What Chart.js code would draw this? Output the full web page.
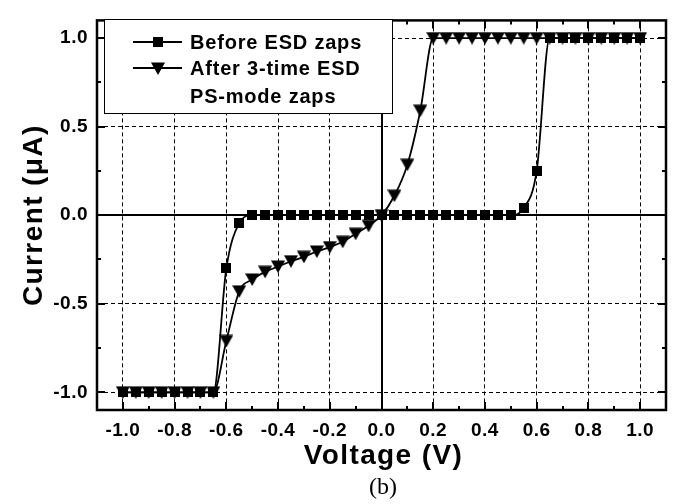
<!DOCTYPE html>
<html><head><meta charset="utf-8">
<script src="https://cdn.jsdelivr.net/npm/chart.js@4.4.0/dist/chart.umd.min.js"></script>
<style>html,body{margin:0;padding:0;background:#fff;}#wrap{width:679px;height:504px;}</style>
</head><body><div id="wrap"><canvas id="c" width="679" height="504"></canvas></div>
<script>
const seriesNames = ['Before ESD zaps', 'After 3-time ESD', 'PS-mode zaps'];
const voltage = [-1.0,-0.95,-0.9,-0.85,-0.8,-0.75,-0.7,-0.65,-0.6,-0.55,-0.5,-0.45,-0.4,-0.35,-0.3,-0.25,-0.2,-0.15,-0.1,-0.05,0.0,0.05,0.1,0.15,0.2,0.25,0.3,0.35,0.4,0.45,0.5,0.55,0.6,0.65,0.7,0.75,0.8,0.85,0.9,0.95,1.0];
const beforeCurrent = [-1.0,-1.0,-1.0,-1.0,-1.0,-1.0,-1.0,-1.0,-0.30,-0.045,0,0,0,0,0,0,0,0,0,0,0,0,0,0,0,0,0,0,0,0,0,0.04,0.25,1.0,1.0,1.0,1.0,1.0,1.0,1.0,1.0];
const afterCurrent = [-1.0,-1.0,-1.0,-1.0,-1.0,-1.0,-1.0,-1.0,-0.71,-0.43,-0.363,-0.32,-0.29,-0.26,-0.235,-0.205,-0.18,-0.15,-0.105,-0.06,0.0,0.11,0.285,0.59,1.0,1.0,1.0,1.0,1.0,1.0,1.0,1.0,1.0,1.0,1.0,1.0,1.0,1.0,1.0,1.0,1.0];
const xTickValues = [-1.0,-0.8,-0.6,-0.4,-0.2,0.0,0.2,0.4,0.6,0.8,1.0];
const xTickLabels = ['-1.0','-0.8','-0.6','-0.4','-0.2','0.0','0.2','0.4','0.6','0.8','1.0'];
const xMinorValues = [-0.9,-0.7,-0.5,-0.3,-0.1,0.1,0.3,0.5,0.7,0.9];
const yTickValues = [-1.0,-0.5,0.0,0.5,1.0];
const yTickLabels = ['-1.0','-0.5','0.0','0.5','1.0'];
const yMinorValues = [-0.75,-0.25,0.25,0.75];
const xTitle = 'Voltage (V)';
const yTitle = 'Current (\u03BCA)';
const caption = '(b)';

const FONT = '"Liberation Sans", Arial, sans-serif';

// marker images
const triImg = document.createElement('canvas');
triImg.width = 14; triImg.height = 13;
(() => {
  const t = triImg.getContext('2d');
  t.fillStyle = '#000';
  t.beginPath(); t.moveTo(0, 0.5); t.lineTo(14, 0.5); t.lineTo(7, 13); t.closePath(); t.fill();
})();
const sqImg = document.createElement('canvas');
sqImg.width = 10; sqImg.height = 10;
(() => { const t = sqImg.getContext('2d'); t.fillStyle = '#000'; t.fillRect(0, 0, 10, 10); })();

const framePlugin = {
  id: 'frame',
  beforeDraw(chart) {
    chart.ctx.letterSpacing = '0.5px';
  },
  beforeDatasetsDraw(chart) {
    const {ctx, chartArea: a, scales: {x, y}} = chart;
    ctx.save();
    ctx.strokeStyle = '#000';
    ctx.lineWidth = 2;
    const x0 = Math.round(x.getPixelForValue(0));
    const y0 = Math.round(y.getPixelForValue(0));
    ctx.beginPath();
    ctx.moveTo(a.left, y0); ctx.lineTo(a.right, y0);
    ctx.moveTo(x0, a.top); ctx.lineTo(x0, a.bottom);
    ctx.stroke();
    ctx.restore();
  },
  afterDatasetsDraw(chart) {
    const {ctx, chartArea: a, scales: {x, y}} = chart;
    ctx.save();
    ctx.strokeStyle = '#000';
    ctx.lineWidth = 2;
    ctx.beginPath();
    const tick = (vals, len) => {
      vals.forEach(v => {
        const px = Math.round(x.getPixelForValue(v));
        ctx.moveTo(px, a.bottom); ctx.lineTo(px, a.bottom - len);
        ctx.moveTo(px, a.top); ctx.lineTo(px, a.top + len);
      });
    };
    const tickY = (vals, len) => {
      vals.forEach(v => {
        const py = Math.round(y.getPixelForValue(v));
        ctx.moveTo(a.left, py); ctx.lineTo(a.left + len, py);
        ctx.moveTo(a.right, py); ctx.lineTo(a.right - len, py);
      });
    };
    tick(xTickValues, 8); tick(xMinorValues, 4);
    tickY(yTickValues, 8); tickY(yMinorValues, 4);
    ctx.stroke();
    ctx.lineWidth = 2.5;
    ctx.strokeRect(a.left, a.top, a.right - a.left, a.bottom - a.top);
    ctx.restore();
  },
  afterDraw(chart) {
    const {ctx, chartArea: a} = chart;
    ctx.save();
    // legend box
    const bx = 104, by = 19, bw = 288, bh = 94;
    ctx.fillStyle = '#fff';
    ctx.fillRect(bx, by, bw, bh);
    ctx.strokeStyle = '#000';
    ctx.lineWidth = 1;
    ctx.strokeRect(bx + 0.5, by + 0.5, bw, bh);
    ctx.fillStyle = '#000';
    ctx.lineWidth = 1.8;
    const rows = [{y: 42, img: sqImg, text: seriesNames[0]}, {y: 68, img: triImg, text: seriesNames[1]}];
    ctx.font = 'bold 20px ' + FONT;
    ctx.letterSpacing = '0.8px';
    ctx.textBaseline = 'middle';
    ctx.textAlign = 'left';
    rows.forEach(r => {
      ctx.beginPath(); ctx.moveTo(133, r.y); ctx.lineTo(182, r.y); ctx.stroke();
      ctx.drawImage(r.img, Math.round(157.5 - r.img.width / 2), Math.round(r.y - r.img.height / 2));
      ctx.fillText(r.text, 190, r.y + 1);
    });
    ctx.fillText(seriesNames[2], 190, 97);
    // axis titles
    ctx.font = 'bold 28px ' + FONT;
    ctx.letterSpacing = '1.4px';
    ctx.textAlign = 'center';
    ctx.fillText(xTitle, (a.left + a.right) / 2 + 2, 456);
    ctx.save();
    ctx.translate(34, (a.top + a.bottom) / 2);
    ctx.rotate(-Math.PI / 2);
    ctx.fillText(yTitle, 0, 0);
    ctx.restore();
    ctx.letterSpacing = '0px';
    ctx.font = '24px "Liberation Serif", "Times New Roman", serif';
    ctx.fillText(caption, 383, 488);
    ctx.restore();
  }
};

const gridColor = c => (c.tick && c.tick.value === 0) ? 'rgba(0,0,0,0)' : '#000';

new Chart(document.getElementById('c'), {
  type: 'scatter',
  data: {
    datasets: [
      {label: seriesNames[0], data: voltage.map((v, i) => ({x: v, y: beforeCurrent[i]})), showLine: true,
       borderColor: '#000', backgroundColor: '#000', borderWidth: 1.8, pointStyle: sqImg, pointRadius: 5,
       pointBorderWidth: 0, cubicInterpolationMode: 'monotone', order: 1},
      {label: seriesNames[1] + ' ' + seriesNames[2], data: voltage.map((v, i) => ({x: v, y: afterCurrent[i]})), showLine: true,
       borderColor: '#000', backgroundColor: '#000', borderWidth: 1.8, pointStyle: triImg, pointRadius: 7,
       pointBorderWidth: 0, cubicInterpolationMode: 'monotone', order: 0}
    ]
  },
  options: {
    responsive: false, animation: false, devicePixelRatio: 1,
    layout: {padding: {left: 0, right: 13, top: 12, bottom: 0}},
    plugins: {legend: {display: false}, tooltip: {enabled: false}},
    scales: {
      x: {type: 'linear', min: -1.1, max: 1.1,
          afterFit(s) { s.height = 94; },
          afterBuildTicks(s) { s.ticks = xTickValues.map(v => ({value: v})); },
          ticks: {callback: (v, i) => xTickLabels[i], color: '#000', padding: 9, maxRotation: 0,
                  font: {family: FONT, size: 19, weight: 'bold'}},
          grid: {drawTicks: false, color: gridColor, lineWidth: 1},
          border: {display: false, dash: [4, 3]}},
      y: {type: 'linear', min: -1.1, max: 1.1,
          afterFit(s) { s.width = 97; },
          afterBuildTicks(s) { s.ticks = yTickValues.map(v => ({value: v})); },
          ticks: {callback: (v, i) => yTickLabels[i], color: '#000', padding: 9,
                  font: {family: FONT, size: 19, weight: 'bold'}},
          grid: {drawTicks: false, color: gridColor, lineWidth: 1},
          border: {display: false, dash: [4, 3]}}
    }
  },
  plugins: [framePlugin]
});
</script></body></html>
